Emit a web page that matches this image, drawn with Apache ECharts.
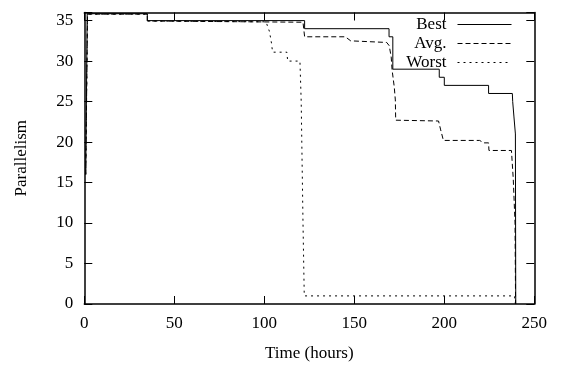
<!DOCTYPE html>
<html>
<head>
<meta charset="utf-8">
<script src="https://cdn.jsdelivr.net/npm/echarts@6/dist/echarts.min.js"></script>
<style>html,body{margin:0;padding:0;background:#fff;}#c{width:564px;height:367px;}</style>
</head>
<body>
<div id="c"></div>
<script>
// Data
var seriesNames = ['Best', 'Avg.', 'Worst'];
var xTicks = [0, 50, 100, 150, 200, 250];
var yTicks = [0, 5, 10, 15, 20, 25, 30, 35];

var bestTime = [0.8, 1.6, 35, 35, 122.4, 122.4, 169.3, 169.3, 171.4, 171.4, 197.2, 197.2, 200, 200, 224.6, 224.6, 237.8, 238.0, 238.7, 239.5, 239.7];
var bestPar  = [16, 35.85, 35.85, 35, 35, 34, 34, 33, 33, 29, 29, 28, 28, 27, 27, 26, 26, 25, 23.1, 21, 0];

var avgTime = [0.8, 1.8, 35, 35, 121.5, 122.4, 145, 148, 168, 169.4, 170.5, 171, 172.2, 172.8, 173, 196.8, 198, 199.5, 219.6, 222, 224.6, 224.8, 237.3, 238.3, 239.3, 239.6];
var avgPar  = [16, 35.8, 35.8, 34.95, 34.8, 33, 33, 32.5, 32.3, 31.9, 30.5, 28.9, 26.8, 25.2, 22.7, 22.6, 21.5, 20.2, 20.2, 19.9, 19.9, 18.96, 18.96, 15.5, 10, 0];

var worstTime = [0.8, 1.8, 35, 35, 101, 101.8, 102.8, 103.3, 104, 104.6, 112.5, 113, 119.8, 120.5, 121.5, 122.2, 239, 239.5];
var worstPar  = [16, 35.8, 35.8, 34.95, 34.85, 34.3, 33.7, 33.1, 32.2, 31.1, 31.1, 30, 30, 25, 10, 1, 1, 0];

function pairs(xs, ys) { return xs.map(function (x, i) { return [x, ys[i]]; }); }

var FONT = 'Liberation Serif';
var FS = 17;
var chart = echarts.init(document.getElementById('c'), null, {renderer: 'canvas'});

function xAx(pos, labels) {
  return {
    type: 'value', position: pos, min: xTicks[0], max: xTicks[xTicks.length - 1], interval: 50,
    name: labels ? 'Time (hours)' : '', nameLocation: 'middle', nameGap: 41,
    nameTextStyle: {fontFamily: FONT, fontSize: FS, color: '#000'},
    axisLine: {show: true, onZero: false, lineStyle: {color: '#000', width: 1.5}},
    axisTick: {show: true, inside: true, length: 8, lineStyle: {color: '#000', width: 1}},
    axisLabel: {show: labels, fontFamily: FONT, fontSize: FS, color: '#000', margin: 11},
    splitLine: {show: false}
  };
}
function yAx(pos, labels) {
  return {
    type: 'value', position: pos, min: 0, max: 36, interval: 5,
    name: labels ? 'Parallelism' : '', nameLocation: 'middle', nameGap: 54,
    nameTextStyle: {fontFamily: FONT, fontSize: FS, color: '#000'},
    axisLine: {show: true, onZero: false, lineStyle: {color: '#000', width: 1.5}},
    axisTick: {show: true, inside: true, length: 8, lineStyle: {color: '#000', width: 1}},
    axisLabel: {show: labels, fontFamily: FONT, fontSize: FS, color: '#000', margin: 11,
      formatter: function (v) { return yTicks.indexOf(v) >= 0 ? String(v) : ''; }},
    splitLine: {show: false}
  };
}

function line(name, data, type) {
  return {
    name: name, type: 'line', data: data, symbol: 'none', showSymbol: false,
    animation: false, silent: true, color: '#000',
    itemStyle: {color: '#000'},
    lineStyle: {color: '#000', width: 1, type: type}
  };
}

chart.setOption({
  animation: false,
  backgroundColor: '#fff',
  color: ['#000', '#000', '#000'],
  grid: {left: 84.3, right: 29.7, top: 12.5, bottom: 60.5, containLabel: false},
  xAxis: [xAx('bottom', true), xAx('top', false)],
  yAxis: [yAx('left', true), yAx('right', false)],
  legend: {
    show: true, orient: 'vertical', right: 52, top: 16, padding: 0,
    align: 'right', itemWidth: 54, itemHeight: 10, itemGap: 2,
    itemStyle: {opacity: 0},
    lineStyle: {width: 1},
    textStyle: {fontFamily: FONT, fontSize: FS, lineHeight: 17, color: '#000', padding: [0, 6, 0, 0]},
    data: seriesNames, selectedMode: false
  },
  series: [
    line(seriesNames[0], pairs(bestTime, bestPar), 'solid'),
    line(seriesNames[1], pairs(avgTime, avgPar), [5, 3]),
    line(seriesNames[2], pairs(worstTime, worstPar), [2, 4])
  ]
});
</script>
</body>
</html>
